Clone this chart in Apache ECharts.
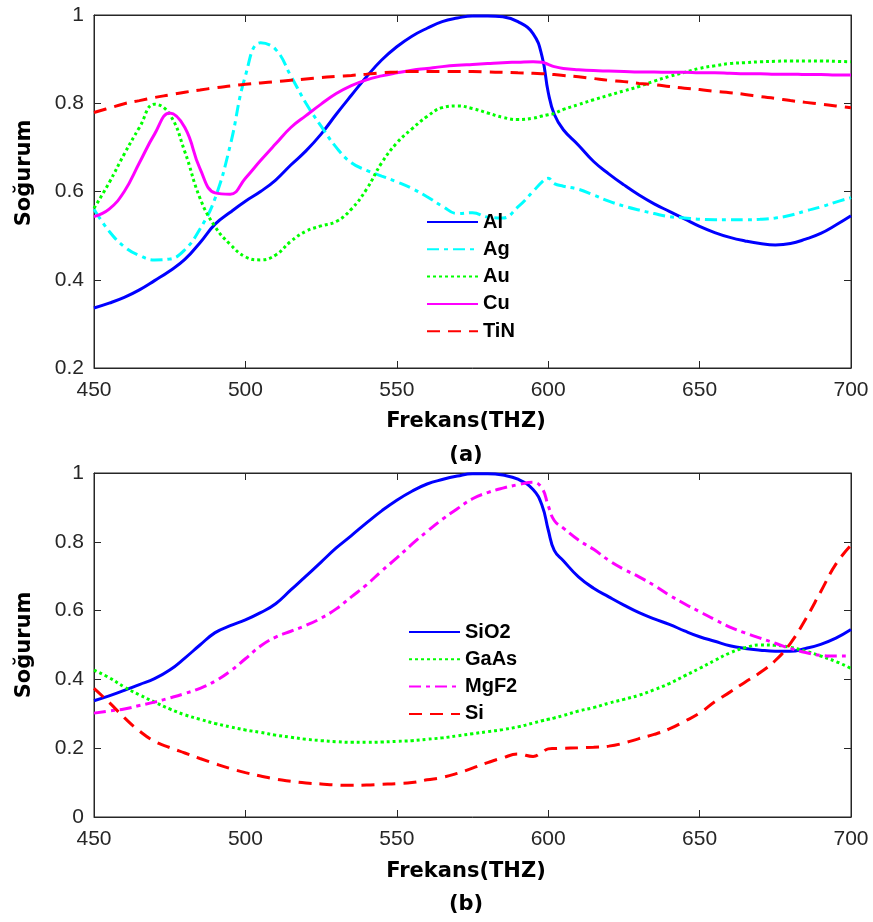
<!DOCTYPE html>
<html>
<head>
<meta charset="utf-8">
<script src="https://cdn.jsdelivr.net/npm/echarts@6/dist/echarts.min.js"></script>
<style>html,body{margin:0;padding:0;background:#fff}#c{width:873px;height:922px}</style>
</head>
<body>
<div id="c"></div>
<script>
// Frequency grid (THz)
const freq = [450,455,460,465,470,475,480,485,490,495,500,505,510,515,520,525,530,535,540,545,550,555,560,565,570,575,580,585,590,595,
  598,600,602,
  605,610,615,620,625,630,635,640,645,650,655,660,665,670,675,680,685,690,695,700];

const xTicks = [450,500,550,600,650,700];

// (a) metals
const Al = [0.336,0.347,0.360,0.377,0.398,0.420,0.446,0.484,0.526,0.553,0.578,0.600,0.626,0.660,0.692,0.730,0.775,0.818,0.860,0.898,0.928,0.952,0.970,0.985,0.993,0.998,0.998,0.996,0.985,0.958,
  0.905,0.825,0.775,
  0.740,0.705,0.668,0.640,0.615,0.592,0.572,0.555,0.538,0.521,0.507,0.496,0.488,0.482,0.479,0.482,0.492,0.505,0.524,0.545];
const Ag = [0.560,0.510,0.475,0.455,0.445,0.447,0.468,0.515,0.585,0.705,0.862,0.937,0.922,0.862,0.800,0.748,0.700,0.665,0.648,0.635,0.622,0.607,0.588,0.567,0.550,0.552,0.542,0.540,0.565,0.600,
  0.622,0.630,0.618,
  0.612,0.605,0.592,0.578,0.567,0.558,0.550,0.543,0.540,0.537,0.536,0.536,0.536,0.537,0.540,0.546,0.556,0.565,0.576,0.586];
const Au = [0.562,0.620,0.685,0.745,0.798,0.775,0.690,0.585,0.520,0.480,0.452,0.445,0.456,0.487,0.510,0.522,0.532,0.560,0.605,0.665,0.710,0.742,0.770,0.790,0.794,0.788,0.778,0.768,0.763,0.766,
  0.771,0.774,0.777,
  0.786,0.797,0.808,0.818,0.828,0.838,0.850,0.861,0.870,0.879,0.885,0.890,0.892,0.894,0.895,0.896,0.896,0.896,0.895,0.894];
const Cu = [0.543,0.560,0.600,0.665,0.730,0.778,0.745,0.652,0.597,0.594,0.630,0.670,0.708,0.745,0.772,0.798,0.822,0.840,0.853,0.862,0.869,0.875,0.879,0.883,0.886,0.888,0.890,0.892,0.893,0.894,
  0.893,0.888,0.883,
  0.879,0.876,0.874,0.873,0.872,0.871,0.871,0.870,0.870,0.869,0.869,0.868,0.867,0.867,0.866,0.866,0.865,0.865,0.864,0.864];
const TiN = [0.779,0.789,0.799,0.806,0.813,0.819,0.825,0.830,0.835,0.839,0.843,0.846,0.849,0.852,0.855,0.858,0.861,0.863,0.866,0.869,0.871,0.872,0.872,0.872,0.872,0.872,0.871,0.870,0.869,0.868,
  0.867,0.866,0.865,
  0.863,0.860,0.856,0.852,0.849,0.845,0.842,0.838,0.834,0.831,0.827,0.824,0.820,0.815,0.811,0.806,0.802,0.798,0.794,0.790];

// (b) dielectrics / semiconductors
const SiO2 = [0.338,0.352,0.368,0.385,0.402,0.427,0.462,0.500,0.536,0.556,0.573,0.594,0.620,0.660,0.700,0.741,0.782,0.818,0.855,0.890,0.921,0.947,0.968,0.981,0.991,0.998,0.998,0.994,0.982,0.952,
  0.905,0.835,0.775,
  0.745,0.698,0.665,0.640,0.616,0.594,0.576,0.560,0.541,0.524,0.511,0.498,0.490,0.485,0.482,0.482,0.490,0.502,0.520,0.545];
const GaAs = [0.427,0.405,0.378,0.355,0.334,0.314,0.297,0.284,0.272,0.262,0.253,0.246,0.238,0.232,0.226,0.222,0.219,0.217,0.217,0.218,0.220,0.222,0.226,0.230,0.236,0.242,0.248,0.254,0.262,0.273,
  0.280,0.284,0.288,
  0.295,0.308,0.318,0.331,0.342,0.354,0.370,0.388,0.410,0.432,0.455,0.477,0.492,0.500,0.499,0.493,0.482,0.468,0.452,0.432];
const MgF2 = [0.302,0.308,0.314,0.324,0.334,0.346,0.359,0.374,0.395,0.424,0.460,0.497,0.523,0.540,0.557,0.578,0.605,0.640,0.675,0.715,0.753,0.793,0.830,0.865,0.896,0.925,0.943,0.956,0.966,0.973,
  0.955,0.905,0.862,
  0.840,0.805,0.778,0.746,0.720,0.698,0.673,0.645,0.620,0.597,0.574,0.552,0.535,0.520,0.505,0.490,0.478,0.470,0.468,0.468];
const Si = [0.374,0.333,0.289,0.250,0.220,0.202,0.186,0.170,0.155,0.141,0.129,0.119,0.110,0.104,0.099,0.096,0.093,0.092,0.093,0.095,0.097,0.100,0.108,0.115,0.127,0.142,0.158,0.172,0.183,0.176,
  0.188,0.198,0.199,
  0.200,0.201,0.203,0.206,0.215,0.228,0.240,0.256,0.278,0.302,0.335,0.363,0.392,0.420,0.455,0.505,0.575,0.655,0.735,0.790];

const legendA = ['Al','Ag','Au','Cu','TiN'];
const legendB = ['SiO2','GaAs','MgF2','Si'];

// styles
const AX = '#262626';
const tickFont = 'Liberation Sans, Arial, sans-serif';
const S = {
  solid: 'solid',
  dashdot: [12, 5, 4, 5],
  dot: [3, 3],
  dash: [13, 8]
};

function pairs(arr){ return freq.map((f,i)=>[f, arr[i]]); }

function xAxes(gi){
  const base = {gridIndex: gi, type:'value', min:450, max:700, interval:50,
    splitLine:{show:false},
    axisLine:{show:true, onZero:false, lineStyle:{color:AX, width:1}},
    axisTick:{show:true, inside:true, length:7, lineStyle:{color:AX}}};
  return [
    Object.assign({}, base, {position:'bottom',
      axisLabel:{show:true, margin:12, fontSize:21, color:AX, fontFamily:tickFont}}),
    Object.assign({}, base, {position:'top', axisLabel:{show:false}})
  ];
}
function yAxes(gi, mn){
  const base = {gridIndex: gi, type:'value', min:mn, max:1, interval:0.2,
    splitLine:{show:false},
    axisLine:{show:true, onZero:false, lineStyle:{color:AX, width:1}},
    axisTick:{show:true, inside:true, length:7, lineStyle:{color:AX}}};
  return [
    Object.assign({}, base, {position:'left',
      axisLabel:{show:true, margin:10, fontSize:21, color:AX, fontFamily:tickFont}}),
    Object.assign({}, base, {position:'right', axisLabel:{show:false}})
  ];
}

function mk(name, arr, color, type, ax){
  return {name, type:'line', data:pairs(arr), xAxisIndex:ax, yAxisIndex:ax,
    symbol:'none', smooth:0.45, clip:true,
    lineStyle:{color, width:3, type},
    itemStyle:{color}};
}

const series = [
  mk('Al', Al, '#0000FF', S.solid, 0),
  mk('Ag', Ag, '#00FFFF', S.dashdot, 0),
  mk('Au', Au, '#00FF00', S.dot, 0),
  mk('Cu', Cu, '#FF00FF', S.solid, 0),
  mk('TiN', TiN, '#FF0000', S.dash, 0),
  mk('SiO2', SiO2, '#0000FF', S.solid, 2),
  mk('GaAs', GaAs, '#00FF00', S.dot, 2),
  mk('MgF2', MgF2, '#FF00FF', S.dashdot, 2),
  mk('Si', Si, '#FF0000', S.dash, 2)
];

function legend(data, left, top){
  return {data, orient:'vertical', left, top, padding:0, itemWidth:51, itemHeight:20, itemGap:7.3,
    itemStyle:{opacity:0},
    textStyle:{fontSize:20, lineHeight:20, fontWeight:'bold', color:'#000', fontFamily:'Liberation Sans, Arial, sans-serif'},
    selectedMode:false};
}

function txt(text, x, y, rot){
  return {type:'text', x, y, rotation: rot||0,
    style:{text, textAlign:'center', textVerticalAlign:'middle', fill:'#000',
      font:'bold 21px "DejaVu Sans", sans-serif'}};
}

const chart = echarts.init(document.getElementById('c'), null, {renderer:'canvas'});
chart.setOption({
  backgroundColor:'#fff',
  animation:false,
  grid:[
    {left:94, top:15, width:757, height:353, show:true, borderColor:AX, borderWidth:1, backgroundColor:'transparent'},
    {left:94, top:473, width:757, height:344, show:true, borderColor:AX, borderWidth:1, backgroundColor:'transparent'}
  ],
  xAxis:[...xAxes(0), ...xAxes(1)],
  yAxis:[...yAxes(0, 0.2), ...yAxes(1, 0)],
  legend:[legend(legendA, 426, 212), legend(legendB, 408, 622)],
  series,
  graphic:[
    txt('Frekans(THZ)', 466, 422),
    txt('(a)', 466, 456),
    txt('Soğurum', 25, 173, Math.PI/2),
    txt('Frekans(THZ)', 466, 872),
    txt('(b)', 466, 905),
    txt('Soğurum', 25, 645, Math.PI/2)
  ]
});
</script>
</body>
</html>
